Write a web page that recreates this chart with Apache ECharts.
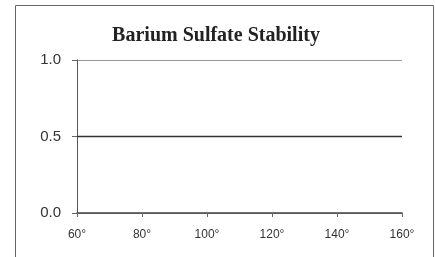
<!DOCTYPE html>
<html>
<head>
<meta charset="utf-8">
<script src="https://cdn.jsdelivr.net/npm/echarts@6/dist/echarts.min.js"></script>
<style>
  html, body { margin: 0; padding: 0; background: #fff; }
  #main { width: 435px; height: 257px; }
</style>
</head>
<body>
<div id="main"></div>
<script>
let myChart = echarts.init(document.getElementById('main'))

// temperatures along the x axis and the stability read at each one
let temps = [60, 80, 100, 120, 140, 160]
let stability = [0.5, 0.5, 0.5, 0.5, 0.5, 0.5]
let yTicks = [0, 0.5, 1]

let option = {
    animation: false,
    title: {
        text: 'Barium Sulfate Stability',
        left: 211,
        top: 21,
        textAlign: 'center',
        textStyle: {
            fontFamily: 'Liberation Serif',
            fontWeight: 'bold',
            fontSize: 20,
            color: '#222'
        }
    },
    graphic: [
        {
            type: 'rect',
            shape: { x: 15.5, y: 5.5, width: 418, height: 270 },
            style: { fill: 'none', stroke: '#666', lineWidth: 1 },
            silent: true
        }
    ],
    grid: { left: 77, right: 33, top: 60, bottom: 44 },
    xAxis: {
        type: 'value',
        min: temps[0],
        max: temps[temps.length - 1],
        interval: 20,
        axisLine: { lineStyle: { color: '#444', width: 1.5 } },
        axisTick: { show: true, length: 4, inside: false, lineStyle: { color: '#666' } },
        splitLine: { show: false },
        axisLabel: {
            formatter: v => v + '°',
            color: '#333',
            fontFamily: 'Liberation Sans',
            fontSize: 12,
            margin: 16
        }
    },
    yAxis: {
        type: 'value',
        min: yTicks[0],
        max: yTicks[yTicks.length - 1],
        interval: 0.5,
        axisLine: { show: true, lineStyle: { color: '#555', width: 1 } },
        axisTick: { show: true, length: 5, lineStyle: { color: '#666' } },
        splitLine: { show: true, lineStyle: { color: '#999', width: 1 } },
        axisLabel: {
            formatter: v => v.toFixed(1),
            color: '#333',
            fontFamily: 'Liberation Sans',
            fontSize: 15,
            margin: 16
        }
    },
    series: [
        {
            type: 'line',
            data: temps.map((t, i) => [t, stability[i]]),
            symbol: 'none',
            lineStyle: { color: '#333', width: 1.5 }
        }
    ]
}

myChart.setOption(option)
</script>
</body>
</html>
